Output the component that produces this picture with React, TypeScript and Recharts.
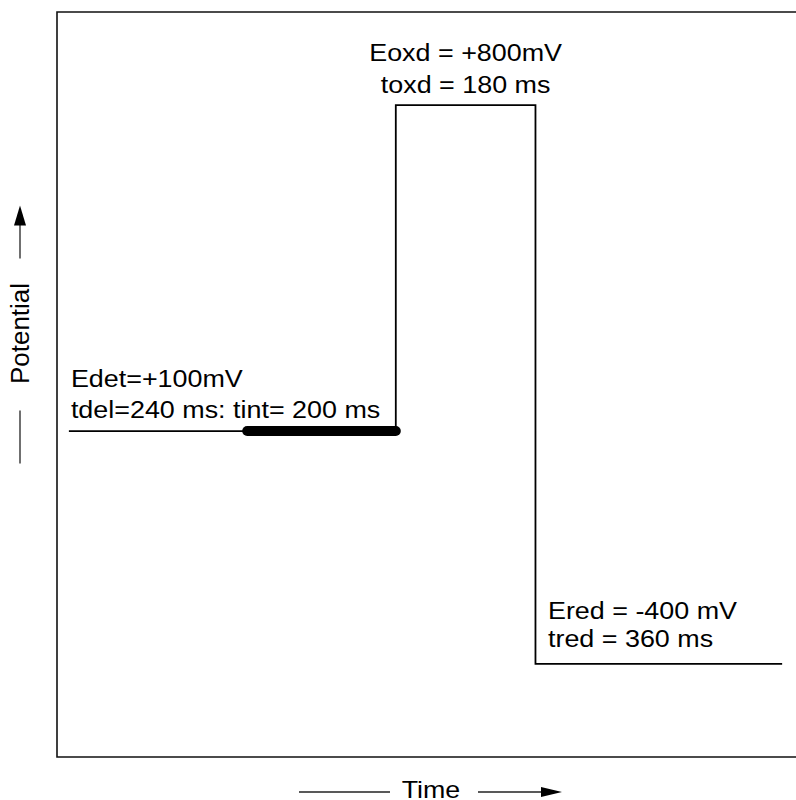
import React from "react";
import { ComposedChart, Line, XAxis, YAxis, ReferenceArea, ReferenceDot } from "recharts";

// Step waveform: time (ms) and potential (mV)
const stepTimes = [0, 440, 628, 960];
const stepPotentials = [100, 800, -400, -400];
// Integration window (thick segment)
const integrationTimes = [240, 440];
const integrationPotential = 100;
// Annotation texts
const detLabels = ["Edet=+100mV", "tdel=240 ms: tint= 200 ms"];
const oxdLabels = ["Eoxd = +800mV", "toxd = 180 ms"];
const redLabels = ["Ered = -400 mV", "tred = 360 ms"];
const xTitle = "Time";
const yTitle = "Potential";

const xDomain = [-16, 980];
const yDomain = [-600, 1000];

const stepData = stepTimes.map((t, i) => ({ t, v: stepPotentials[i] }));
const intData = integrationTimes.map((t) => ({ t, v: integrationPotential }));

const FONT = "'Liberation Sans', Arial, Helvetica, sans-serif";

const TwoLines = (lines: string[], dx: number, dy1: number, dy2: number, anchor: string) => (props: any) => {
  const vb = props.viewBox || {};
  const x = (vb.x ?? 0) + (vb.width ?? 0) / 2;
  const y = (vb.y ?? 0) + (vb.height ?? 0) / 2;
  return (
    <g>
      {[dy1, dy2].map((dy, i) => (
        <text
          key={i}
          transform={`translate(${x + dx},${y + dy}) scale(1.035,0.92)`}
          x={0}
          y={0}
          textAnchor={anchor as any}
          fontFamily={FONT}
          fontSize={26}
          fill="#000"
        >
          {lines[i]}
        </text>
      ))}
    </g>
  );
};

const TimeTitle = (props: any) => {
  const vb = props.viewBox || { x: 57, y: 757, width: 740, height: 43 };
  const cx = vb.x + vb.width / 2 + 4;
  const ly = vb.y + 35;
  const tipX = cx + 131;
  return (
    <g>
      <line x1={cx - 132} x2={cx - 41} y1={ly} y2={ly} stroke="#222" strokeWidth={1.3} />
      <line x1={cx + 47} x2={tipX - 18} y1={ly} y2={ly} stroke="#222" strokeWidth={1.3} />
      <polygon points={`${tipX},${ly} ${tipX - 21},${ly - 5} ${tipX - 21},${ly + 5}`} fill="#000" />
      <text
        transform={`translate(${cx},${vb.y + 41}) scale(1.03,0.92)`}
        textAnchor="middle"
        fontFamily={FONT}
        fontSize={26}
        fill="#000"
      >
        {xTitle}
      </text>
    </g>
  );
};

const PotentialTitle = (props: any) => {
  const vb = props.viewBox || { x: 0, y: 12, width: 57, height: 745 };
  const cx = vb.x + 20;
  const cy = vb.y + vb.height / 2 - 51;
  const tipY = cy - 128;
  return (
    <g>
      <line x1={cx} x2={cx} y1={tipY + 18} y2={cy - 75} stroke="#222" strokeWidth={1.3} />
      <polygon points={`${cx},${tipY} ${cx - 6},${tipY + 20} ${cx + 6},${tipY + 20}`} fill="#000" />
      <line x1={cx} x2={cx} y1={cy + 77} y2={cy + 130} stroke="#222" strokeWidth={1.3} />
      <text
        transform={`translate(${cx + 9},${cy}) rotate(-90)`}
        textAnchor="middle"
        fontFamily={FONT}
        fontSize={26}
        fill="#000"
      >
        {yTitle}
      </text>
    </g>
  );
};

export default function App() {
  return (
    <div style={{ width: 796, height: 800, overflow: "hidden", background: "#fff" }}>
      <style>{`body{margin:0}`}</style>
      <ComposedChart width={800} height={800} margin={{ top: 12, right: 3, bottom: 0, left: 0 }}>
        <XAxis
          type="number"
          dataKey="t"
          domain={xDomain}
          allowDataOverflow
          axisLine={false}
          tick={false}
          tickLine={false}
          height={43}
          label={{ content: TimeTitle } as any}
        />
        <YAxis
          type="number"
          dataKey="v"
          domain={yDomain}
          allowDataOverflow
          axisLine={false}
          tick={false}
          tickLine={false}
          width={57}
          label={{ content: PotentialTitle } as any}
        />
        <ReferenceArea
          x1={xDomain[0]}
          x2={xDomain[1]}
          y1={yDomain[0]}
          y2={yDomain[1]}
          fill="none"
          stroke="#111"
          strokeWidth={1.6}
          ifOverflow="visible"
        />
        <Line
          data={stepData}
          dataKey="v"
          type="stepAfter"
          stroke="#000"
          strokeWidth={1.8}
          dot={false}
          isAnimationActive={false}
        />
        <Line
          data={intData}
          dataKey="v"
          type="linear"
          stroke="#000"
          strokeWidth={10}
          strokeLinecap="round"
          dot={false}
          isAnimationActive={false}
        />
        <ReferenceDot
          x={stepTimes[0]}
          y={stepPotentials[0]}
          r={0}
          fill="none"
          stroke="none"
          ifOverflow="visible"
          label={{ content: TwoLines(detLabels, 2, -44, -13, "start") } as any}
        />
        <ReferenceDot
          x={(stepTimes[1] + stepTimes[2]) / 2}
          y={stepPotentials[1]}
          r={0}
          fill="none"
          stroke="none"
          ifOverflow="visible"
          label={{ content: TwoLines(oxdLabels, 0, -44, -12, "middle") } as any}
        />
        <ReferenceDot
          x={stepTimes[2]}
          y={stepPotentials[2]}
          r={0}
          fill="none"
          stroke="none"
          ifOverflow="visible"
          label={{ content: TwoLines(redLabels, 12.5, -45, -17, "start") } as any}
        />
      </ComposedChart>
    </div>
  );
}
